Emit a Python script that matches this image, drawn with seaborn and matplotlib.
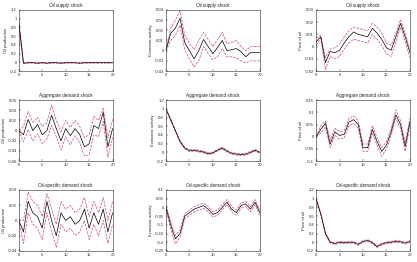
import numpy as np
import pandas as pd
import matplotlib
matplotlib.use("Agg")
import matplotlib.pyplot as plt
import seaborn as sns

# --------------------------
# 数据
# --------------------------
horizon = list(range(21))
shocks = ["Oil supply shock", "Aggregate demand shock", "Oil-specific demand shock"]
variables = ["Oil production", "Economic activity", "Price of oil"]

# 石油供给冲击
prod_supply = [0.92, -0.02, -0.01, -0.01, -0.02, -0.01, -0.02, -0.01, -0.01, -0.02, -0.01,
               -0.01, -0.01, -0.02, -0.01, -0.01, -0.01, -0.01, -0.01, -0.01, -0.01]
prod_supply_lo = [0.90, -0.03, -0.02, -0.02, -0.03, -0.02, -0.03, -0.02, -0.02, -0.03, -0.02,
                  -0.02, -0.02, -0.03, -0.02, -0.02, -0.02, -0.02, -0.02, -0.02, -0.02]
prod_supply_hi = [0.94, -0.01, 0.0, 0.0, -0.01, 0.0, -0.01, 0.0, 0.0, -0.01, 0.0,
                  0.0, 0.0, -0.01, 0.0, 0.0, 0.0, 0.0, 0.0, 0.0, 0.0]

act_supply = [0.0, 0.017, 0.022, 0.032, 0.008, 0.0, -0.008, 0.0, 0.011, 0.004, -0.003,
              0.003, 0.010, 0.0, 0.001, 0.002, -0.001, -0.006, -0.002, -0.002, -0.002]
act_supply_lo = [0.0, 0.010, 0.015, 0.025, 0.001, -0.008, -0.016, -0.010, 0.004, -0.003, -0.009,
                 -0.006, 0.002, -0.006, -0.006, -0.007, -0.010, -0.012, -0.010, -0.010, -0.010]
act_supply_hi = [0.0, 0.022, 0.030, 0.039, 0.015, 0.007, 0.001, 0.010, 0.018, 0.011, 0.004,
                 0.011, 0.018, 0.007, 0.008, 0.010, 0.004, 0.0, 0.004, 0.004, 0.004]

price_supply = [0.004, 0.008, -0.013, -0.004, -0.005, -0.003, 0.003, 0.008, 0.012, 0.010, 0.009,
                0.008, 0.015, 0.011, 0.006, -0.001, -0.003, 0.008, 0.019, 0.008, -0.005]
price_supply_lo = [0.001, 0.007, -0.019, -0.008, -0.010, -0.008, -0.002, 0.003, 0.006, 0.005, 0.004,
                   0.003, 0.010, 0.006, 0.001, -0.006, -0.008, 0.004, 0.016, 0.004, -0.009]
price_supply_hi = [0.007, 0.009, -0.009, -0.002, -0.001, 0.002, 0.008, 0.013, 0.016, 0.015, 0.014,
                   0.013, 0.019, 0.016, 0.011, 0.003, 0.001, 0.011, 0.022, 0.011, -0.002]

# 总需求冲击
prod_agg = [0.0, -0.008, 0.022, 0.0, 0.012, -0.008, 0.0, 0.030, 0.004, -0.020, 0.004,
            -0.010, 0.004, -0.008, -0.032, -0.026, 0.010, 0.004, 0.036, -0.032, 0.004]
prod_agg_lo = [0.0, -0.022, 0.002, -0.020, -0.006, -0.026, -0.016, 0.010, -0.012, -0.038, -0.012,
               -0.028, -0.010, -0.024, -0.050, -0.048, -0.008, -0.012, 0.018, -0.052, -0.014]
prod_agg_hi = [0.0, 0.008, 0.038, 0.016, 0.026, 0.008, 0.016, 0.050, 0.020, -0.002, 0.020,
               0.006, 0.020, 0.008, -0.014, -0.008, 0.028, 0.020, 0.044, -0.014, 0.022]

act_agg = [1.0, 0.75, 0.5, 0.25, 0.1, 0.04, 0.05, 0.03, 0.01, -0.03, -0.01,
           0.05, 0.10, 0.03, -0.02, -0.04, -0.05, -0.04, 0.0, 0.05, 0.0]
act_agg_lo = [1.0, 0.73, 0.48, 0.23, 0.08, 0.02, 0.03, 0.01, -0.01, -0.05, -0.03,
              0.03, 0.08, 0.01, -0.04, -0.06, -0.07, -0.06, -0.02, 0.03, -0.02]
act_agg_hi = [1.0, 0.77, 0.52, 0.27, 0.12, 0.06, 0.07, 0.05, 0.03, -0.01, 0.01,
              0.07, 0.12, 0.05, 0.0, -0.02, -0.03, -0.02, 0.02, 0.07, 0.02]

price_agg = [0.0, 0.03, 0.055, -0.03, 0.02, 0.005, 0.01, 0.06, 0.07, 0.05, -0.045,
             -0.045, 0.03, -0.02, -0.06, -0.035, 0.02, 0.09, 0.05, -0.04, 0.06]
price_agg_lo = [0.0, 0.015, 0.04, -0.045, 0.005, -0.01, -0.005, 0.045, 0.055, 0.035, -0.06,
                -0.06, 0.015, -0.035, -0.08, -0.05, 0.005, 0.075, 0.035, -0.06, 0.045]
price_agg_hi = [0.0, 0.045, 0.065, -0.015, 0.035, 0.02, 0.025, 0.075, 0.085, 0.065, -0.03,
                -0.03, 0.045, -0.005, -0.045, -0.02, 0.035, 0.11, 0.065, -0.025, 0.075]

# 石油特定需求冲击
prod_spec = [0.0, -0.015, 0.025, 0.010, 0.005, -0.010, 0.025, 0.0, -0.020, 0.010, 0.0,
             0.005, -0.005, 0.0, 0.015, -0.010, 0.010, -0.005, 0.015, -0.015, 0.010]
prod_spec_lo = [0.0, -0.030, 0.010, -0.005, -0.010, -0.025, 0.010, -0.015, -0.035, -0.005, -0.015,
                -0.010, -0.020, -0.015, 0.0, -0.025, -0.005, -0.020, 0.0, -0.030, -0.005]
prod_spec_hi = [0.0, 0.0, 0.037, 0.025, 0.020, 0.005, 0.035, 0.015, -0.005, 0.025, 0.015,
                0.020, 0.010, 0.015, 0.030, 0.005, 0.025, 0.010, 0.030, 0.0, 0.025]

act_spec = [0.0, -0.10, -0.18, -0.15, -0.05, -0.03, -0.01, 0.0, 0.01, -0.01, -0.04,
            -0.03, 0.0, 0.03, -0.01, -0.03, 0.01, 0.02, -0.01, 0.03, -0.03]
act_spec_lo = [-0.01, -0.12, -0.21, -0.17, -0.065, -0.045, -0.025, -0.015, -0.005, -0.025, -0.055,
               -0.045, -0.015, 0.015, -0.025, -0.045, -0.005, 0.005, -0.025, 0.015, -0.045]
act_spec_hi = [0.01, -0.08, -0.16, -0.13, -0.035, -0.015, 0.005, 0.015, 0.025, 0.005, -0.025,
               -0.015, 0.015, 0.045, 0.005, -0.015, 0.025, 0.035, 0.005, 0.045, -0.015]

price_spec = [1.0, 0.65, 0.2, 0.0, -0.03, 0.0, -0.01, 0.0, 0.0, -0.05, 0.02,
              0.04, -0.01, -0.10, -0.04, -0.01, 0.0, 0.02, 0.01, -0.02, 0.02]
price_spec_lo = [0.98, 0.63, 0.18, -0.02, -0.05, -0.02, -0.03, -0.02, -0.02, -0.07, 0.0,
                 0.02, -0.03, -0.12, -0.06, -0.03, -0.02, 0.0, -0.01, -0.04, 0.0]
price_spec_hi = [1.0, 0.67, 0.22, 0.02, -0.01, 0.02, 0.01, 0.02, 0.02, -0.03, 0.04,
                 0.06, 0.01, -0.08, -0.02, 0.01, 0.02, 0.04, 0.03, 0.0, 0.04]

# 每个子图的 y 轴刻度
yticks = [
    [[-0.2, 0, 0.2, 0.4, 0.6, 0.8, 1, 1.2], [-0.02, -0.01, 0, 0.01, 0.02, 0.03, 0.04], [-0.02, -0.01, 0, 0.01, 0.02, 0.03]],
    [[-0.06, -0.04, -0.02, 0, 0.02, 0.04, 0.06], [-0.2, 0, 0.2, 0.4, 0.6, 0.8, 1, 1.2], [-0.1, -0.05, 0, 0.05, 0.1, 0.15]],
    [[-0.04, -0.02, 0, 0.02, 0.04], [-0.25, -0.2, -0.15, -0.1, -0.05, 0, 0.05, 0.1], [-0.2, 0, 0.2, 0.4, 0.6, 0.8, 1, 1.2]],
]

series = [
    [(prod_supply, prod_supply_lo, prod_supply_hi), (act_supply, act_supply_lo, act_supply_hi), (price_supply, price_supply_lo, price_supply_hi)],
    [(prod_agg, prod_agg_lo, prod_agg_hi), (act_agg, act_agg_lo, act_agg_hi), (price_agg, price_agg_lo, price_agg_hi)],
    [(prod_spec, prod_spec_lo, prod_spec_hi), (act_spec, act_spec_lo, act_spec_hi), (price_spec, price_spec_lo, price_spec_hi)],
]

sns.set_style("ticks")
plt.rcParams["font.family"] = ["Liberation Sans", "DejaVu Sans"]

fig = plt.figure(figsize=(4.17, 2.62), dpi=100)
lefts = [0.045, 0.398, 0.758]
bottoms = [0.729, 0.385, 0.042]
w, h = 0.225, 0.233

for r in range(3):
    for c in range(3):
        ax = fig.add_axes([lefts[c], bottoms[r], w, h])
        mid, lo, hi = series[r][c]
        df = pd.DataFrame({"h": horizon, "mid": mid, "lo": lo, "hi": hi})
        sns.lineplot(data=df, x="h", y="hi", ax=ax, color="#d9466a", lw=0.5, linestyle="--")
        sns.lineplot(data=df, x="h", y="lo", ax=ax, color="#d9466a", lw=0.5, linestyle="--")
        sns.lineplot(data=df, x="h", y="mid", ax=ax, color="black", lw=0.5)
        ticks = yticks[r][c]
        ax.set_ylim(ticks[0], ticks[-1])
        ax.set_yticks(ticks)
        ax.set_yticklabels([f"{t:g}" for t in ticks])
        ax.set_xlim(0, 20)
        ax.set_xticks([0, 5, 10, 15, 20])
        ax.tick_params(direction="in", length=1.5, width=0.3, labelsize=3, pad=1.5)
        for sp in ax.spines.values():
            sp.set_linewidth(0.4)
            sp.set_visible(True)
        ax.set_xlabel("")
        ax.set_ylabel(variables[c], fontsize=3, labelpad=1)
        ax.set_title(shocks[r], fontsize=3.3, pad=2)

fig.savefig("out.png", dpi=100)
